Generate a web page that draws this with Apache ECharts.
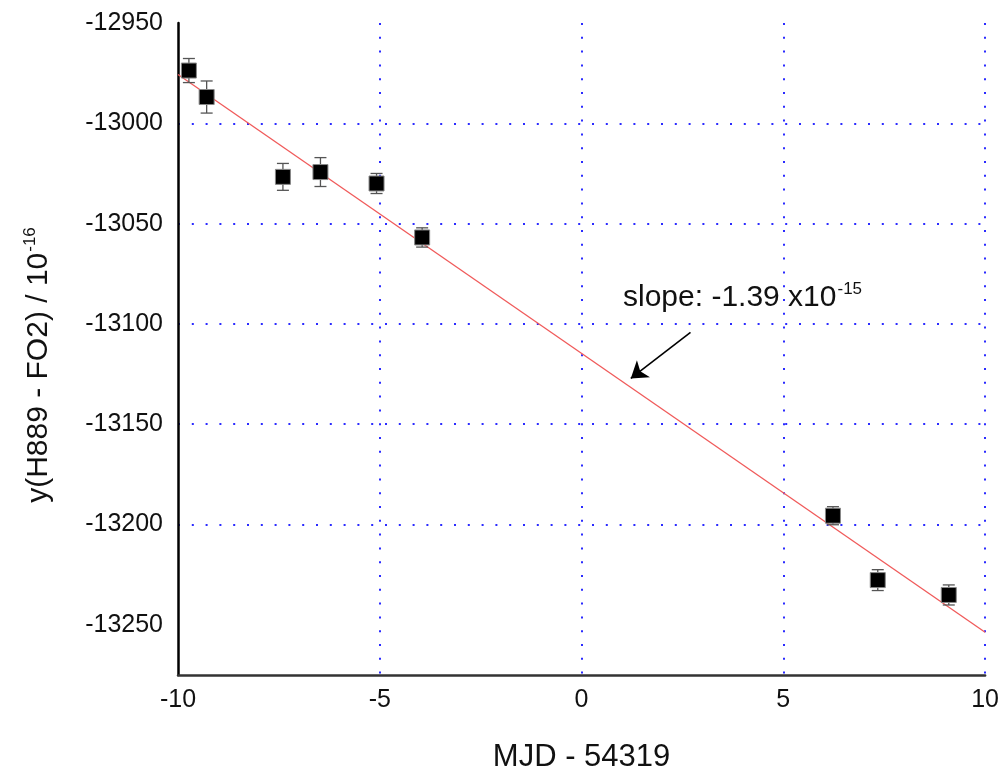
<!DOCTYPE html>
<html>
<head>
<meta charset="utf-8">
<script src="https://cdn.jsdelivr.net/npm/echarts@6/dist/echarts.min.js"></script>
<style>
html,body{margin:0;padding:0;background:#fff;}
#chart{width:1002px;height:778px;}
</style>
</head>
<body>
<div id="chart"></div>
<script>
// Measured points: MJD - 54319, y value (1e-16), error half-width
const mjd = [-9.73, -9.29, -7.40, -6.47, -5.08, -3.95, 6.23, 7.34, 9.10];
const yVals = [-12973.7, -12986.9, -13026.7, -13024.3, -13030.0, -13056.9, -13195.6, -13227.7, -13235.1];
const yErr = [6.0, 8.0, 6.7, 7.2, 5.0, 4.8, 4.5, 5.2, 5.0];
// Linear fit end points
const fitX = [-10, 10];
const fitY = [-12975.7, -13253.7];
// Annotation arrow (data coords): start, tip
const arrowFrom = [2.70, -13104.2];
const arrowTo = [1.22, -13127.2];
// Tick values
const xTicks = [-10, -5, 0, 5, 10];
const yTicks = [-13250, -13200, -13150, -13100, -13050, -13000, -12950];

const FONT = '"Liberation Sans", Arial, Helvetica, sans-serif';
const chart = echarts.init(document.getElementById('chart'), null, {renderer: 'canvas'});

const points = mjd.map((x, i) => [x, yVals[i]]);
const errData = mjd.map((x, i) => [x, yVals[i], yErr[i]]);
const fitData = fitX.map((x, i) => [x, fitY[i]]);

const gridDots = {color: '#2b2bff', width: 2, type: [2, 11.8]};
const plain = v => String(v);

chart.setOption({
  backgroundColor: '#fff',
  animation: false,
  grid: {left: 178, right: 13, top: 23, bottom: 98, containLabel: false},
  xAxis: {
    type: 'value',
    min: -10, max: 10, interval: 5,
    axisLine: {show: true, onZero: false, lineStyle: {color: '#333', width: 2.5}},
    axisTick: {show: false},
    axisLabel: {margin: 13, fontSize: 25, color: '#111', fontFamily: FONT, formatter: plain},
    splitLine: {show: true, showMinLine: false, showMaxLine: true, lineStyle: gridDots},
    name: 'MJD - 54319',
    nameLocation: 'middle',
    nameGap: 67,
    nameTextStyle: {fontSize: 31, color: '#111', fontFamily: FONT}
  },
  yAxis: {
    type: 'value',
    min: -13275, max: -12950,
    axisLine: {show: true, onZero: false, lineStyle: {color: '#000', width: 2.5}},
    axisTick: {show: false, customValues: yTicks},
    axisLabel: {margin: 15, fontSize: 25, color: '#111', fontFamily: FONT, customValues: yTicks, formatter: plain},
    splitLine: {show: true, showMinLine: false, showMaxLine: false, lineStyle: gridDots},
    name: '{m|y(H889 - FO2) / 10}{s|-16}',
    nameLocation: 'middle',
    nameRotate: 90,
    nameGap: 122,
    nameTextStyle: {
      color: '#111', fontFamily: FONT,
      padding: [0, 32, 0, 0],
      rich: {
        m: {fontSize: 30, fontFamily: FONT, color: '#111', lineHeight: 34},
        s: {fontSize: 17, fontFamily: FONT, color: '#111', verticalAlign: 'top', lineHeight: 34, padding: [0, 0, 12, 1]}
      }
    }
  },
  series: [
    {
      type: 'line',
      data: fitData,
      symbol: 'none',
      z: 1,
      lineStyle: {color: '#f05a5a', width: 1.3},
      markLine: {
        silent: true,
        symbol: ['none', 'arrow'],
        symbolSize: 16,
        label: {show: false},
        lineStyle: {color: '#000', width: 1.6, type: 'solid'},
        data: [[{coord: arrowFrom}, {coord: arrowTo}]]
      }
    },
    {
      type: 'custom',
      data: errData,
      z: 3,
      renderItem: function (params, api) {
        const x = api.value(0), y = api.value(1), e = api.value(2);
        const top = api.coord([x, y + e]);
        const bot = api.coord([x, y - e]);
        const hw = 6;
        const st = {stroke: '#555', lineWidth: 1.3};
        return {
          type: 'group',
          children: [
            {type: 'line', shape: {x1: top[0], y1: top[1], x2: bot[0], y2: bot[1]}, style: st},
            {type: 'line', shape: {x1: top[0] - hw, y1: top[1], x2: top[0] + hw, y2: top[1]}, style: st},
            {type: 'line', shape: {x1: bot[0] - hw, y1: bot[1], x2: bot[0] + hw, y2: bot[1]}, style: st}
          ]
        };
      }
    },
    {
      type: 'scatter',
      data: points,
      symbol: 'rect',
      symbolSize: 15,
      z: 4,
      itemStyle: {color: '#000', borderColor: '#888', borderWidth: 1, opacity: 1}
    }
  ],
  graphic: [
    {
      type: 'text',
      left: 623,
      top: 281,
      style: {
        text: '{m|slope: -1.39 x10}{s|-15}',
        fontFamily: FONT,
        rich: {
          m: {fontSize: 30, fontFamily: FONT, fill: '#111', lineHeight: 34},
          s: {fontSize: 17, fontFamily: FONT, fill: '#111', verticalAlign: 'top', lineHeight: 34, padding: [0, 0, 12, 1]}
        }
      }
    }
  ]
});
</script>
</body>
</html>
